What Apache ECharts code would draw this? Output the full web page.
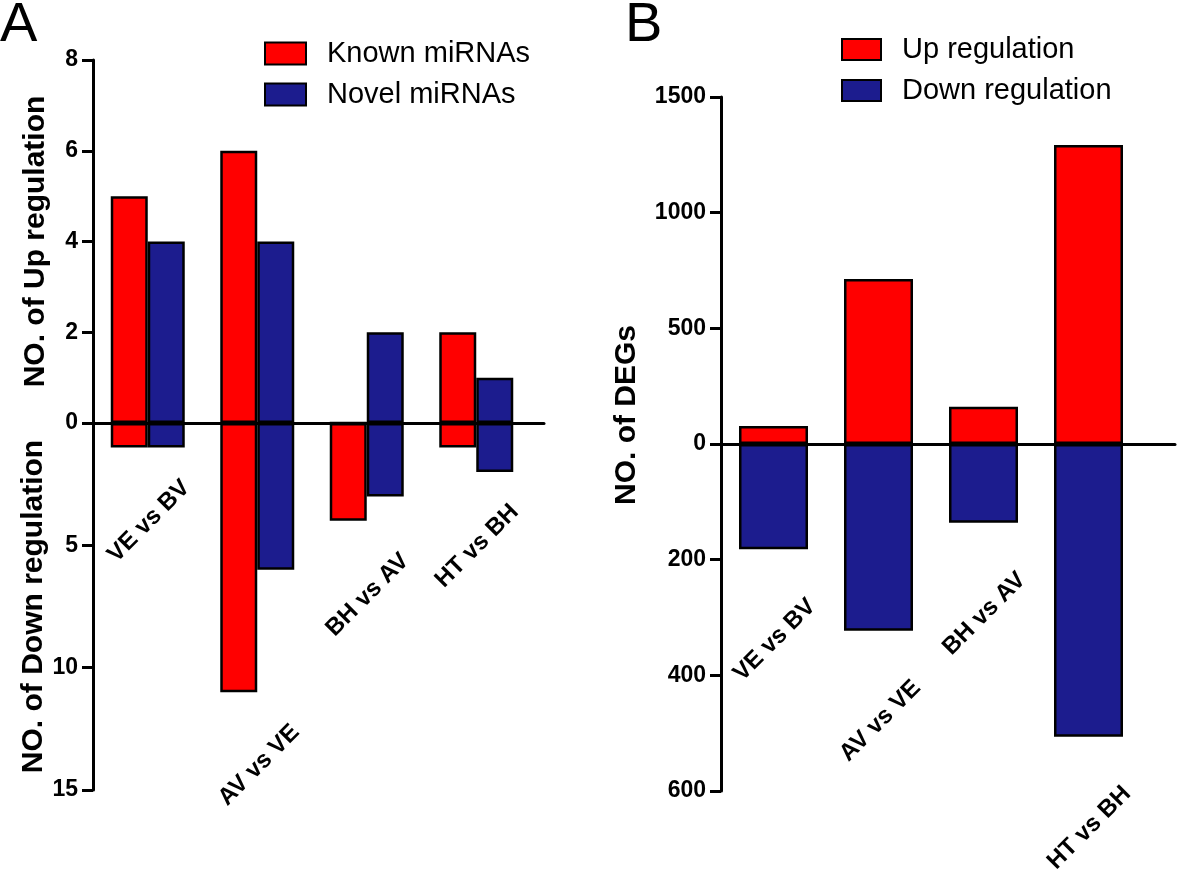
<!DOCTYPE html>
<html lang="en">
<head>
<meta charset="UTF-8">
<title>miRNA and DEG regulation</title>
<script src="https://cdn.jsdelivr.net/npm/echarts@6/dist/echarts.min.js"></script>
<style>
  html, body { margin: 0; padding: 0; background: #fff; }
  #main { width: 1181px; height: 876px; }
</style>
</head>
<body>
<div id="main"></div>
<script>
  // panel A: differentially expressed miRNAs
  var categoriesA = ['VE vs BV', 'AV vs VE', 'BH vs AV', 'HT vs BH'];
  var knownUp = [5, 6, 0, 2];
  var novelUp = [4, 4, 2, 1];
  var knownDown = [1, 11, 4, 1];
  var novelDown = [1, 6, 3, 2];
  var ticksUpA = [0, 2, 4, 6, 8];
  var ticksDownA = [0, 5, 10, 15];

  // panel B: DEGs
  var categoriesB = ['VE vs BV', 'AV vs VE', 'BH vs AV', 'HT vs BH'];
  var degUp = [78, 713, 161, 1292];
  var degDown = [182, 323, 136, 506];
  var ticksUpB = [0, 500, 1000, 1500];
  var ticksDownB = [0, 200, 400, 600];

  var FONT = '"Liberation Sans", Arial, sans-serif';
  var RED = '#ff0000';
  var BLUE = '#1c1c8e';

  function lowest(a, b) {
    return a.map(function (v, i) { return b ? Math.max(v, b[i]) : v; });
  }

  // value axis built from a tick list
  function valueAxis(grid, ticks, opts) {
    var ax = {
      type: 'value',
      gridIndex: grid,
      min: ticks[0],
      max: ticks[ticks.length - 1],
      interval: ticks[1] - ticks[0],
      axisLine: { show: true, lineStyle: { color: '#000', width: 3 } },
      axisTick: { show: true, length: 11, lineStyle: { color: '#000', width: 3 } },
      axisLabel: {
        color: '#000', fontSize: 23, fontWeight: 'bold', fontFamily: FONT, margin: 15,
        formatter: function (v) { return String(v); }
      },
      splitLine: { show: false },
      nameLocation: 'middle',
      nameTextStyle: { color: '#000', fontSize: 30, fontWeight: 'bold', fontFamily: FONT }
    };
    for (var k in opts) ax[k] = opts[k];
    return ax;
  }

  function catAxis(grid, cats) {
    return {
      type: 'category', gridIndex: grid, data: cats,
      axisLine: { show: false }, axisTick: { show: false }, axisLabel: { show: false }
    };
  }

  // axis used only for the zero line (and panel B's title)
  function zeroAxisX(grid) {
    return {
      type: 'value', gridIndex: grid, min: 0, max: 1, z: 10,
      axisLine: { show: true, onZero: true, lineStyle: { color: '#000', width: 3 } },
      axisTick: { show: false }, axisLabel: { show: false }, splitLine: { show: false }
    };
  }

  function bar(name, x, y, data, color, width) {
    return {
      name: name, type: 'bar', xAxisIndex: x, yAxisIndex: y, data: data,
      barWidth: width, barGap: '0%',
      itemStyle: { color: color, borderColor: '#000', borderWidth: 2.5 }
    };
  }

  // category name under the deepest bar of each group
  function catLabels(x, y, cats, depth, gap, dx) {
    return {
      type: 'custom', xAxisIndex: x, yAxisIndex: y, z: 5,
      data: cats.map(function (c, i) { return [i, depth[i]]; }),
      renderItem: function (params, api) {
        var p = api.coord([api.value(0), api.value(1)]);
        return {
          type: 'text',
          x: p[0] + dx,
          y: p[1] + gap,
          rotation: Math.PI / 4,
          style: {
            text: cats[params.dataIndex], fill: '#000',
            fontSize: 24, fontWeight: 'bold', fontFamily: FONT,
            align: 'right', verticalAlign: 'top'
          }
        };
      }
    };
  }

  var legendText = { color: '#000', fontSize: 29, fontFamily: FONT, lineHeight: 22, padding: [0, 0, 0, 16] };

  var options = {
    animation: false,
    backgroundColor: '#fff',
    title: [
      { text: 'A', left: 0, top: -2, padding: 0, textStyle: { fontSize: 56, fontWeight: 'normal', color: '#000', fontFamily: FONT } },
      { text: 'B', left: 625, top: -2, padding: 0, textStyle: { fontSize: 56, fontWeight: 'normal', color: '#000', fontFamily: FONT } }
    ],
    legend: [
      {
        data: ['Known miRNAs', 'Novel miRNAs'], orient: 'vertical', left: 264, top: 39, padding: 0,
        icon: 'rect', itemWidth: 41, itemHeight: 22, itemGap: 12, textStyle: legendText
      },
      {
        data: ['Up regulation', 'Down regulation'], orient: 'vertical', left: 841, top: 35, padding: 0,
        icon: 'rect', itemWidth: 39, itemHeight: 21, itemGap: 12, textStyle: legendText
      }
    ],
    grid: [
      { left: 93, top: 60, width: 438, height: 363, outerBoundsMode: 'none' },
      { left: 93, top: 423, width: 438, height: 367, outerBoundsMode: 'none' },
      { left: 93, top: 60, width: 451, height: 726, outerBoundsMode: 'none' },
      { left: 721, top: 97, width: 420, height: 347, outerBoundsMode: 'none' },
      { left: 721, top: 444, width: 420, height: 347, outerBoundsMode: 'none' },
      { left: 721, top: 97, width: 454, height: 636, outerBoundsMode: 'none' }
    ],
    xAxis: [
      catAxis(0, categoriesA),
      catAxis(1, categoriesA),
      zeroAxisX(2),
      catAxis(3, categoriesB),
      catAxis(4, categoriesB),
      zeroAxisX(5)
    ],
    yAxis: [
      valueAxis(0, ticksUpA, { name: 'NO. of Up regulation', nameGap: 42 }),
      valueAxis(1, ticksDownA, { inverse: true, name: 'NO. of Down regulation', nameGap: 42 }),
      { type: 'value', gridIndex: 2, min: -1, max: 1, show: false },
      valueAxis(3, ticksUpB, {}),
      valueAxis(4, ticksDownB, { inverse: true }),
      {
        type: 'value', gridIndex: 5, min: -10, max: 12,
        axisLine: { show: false }, axisTick: { show: false }, axisLabel: { show: false }, splitLine: { show: false },
        name: 'NO. of DEGs', nameLocation: 'middle', nameGap: 79,
        nameTextStyle: { color: '#000', fontSize: 30, fontWeight: 'bold', fontFamily: FONT }
      }
    ],
    series: [
      bar('Known miRNAs', 0, 0, knownUp, RED, 37),
      bar('Novel miRNAs', 0, 0, novelUp, BLUE, 37),
      bar('Known miRNAs', 1, 1, knownDown, RED, 37),
      bar('Novel miRNAs', 1, 1, novelDown, BLUE, 37),
      catLabels(1, 1, categoriesA, lowest(knownDown, novelDown), 28, 30),
      bar('Up regulation', 3, 3, degUp, RED, 69),
      bar('Down regulation', 4, 4, degDown, BLUE, 69),
      catLabels(4, 4, categoriesB, lowest(degDown), 45, 30)
    ]
  };

  // hide the duplicated 0 on the lower axes
  options.yAxis[1].axisLabel.showMinLabel = false;
  options.yAxis[4].axisLabel.showMinLabel = false;

  var myChart = echarts.init(document.getElementById('main'));
  myChart.setOption(options);
</script>
</body>
</html>
